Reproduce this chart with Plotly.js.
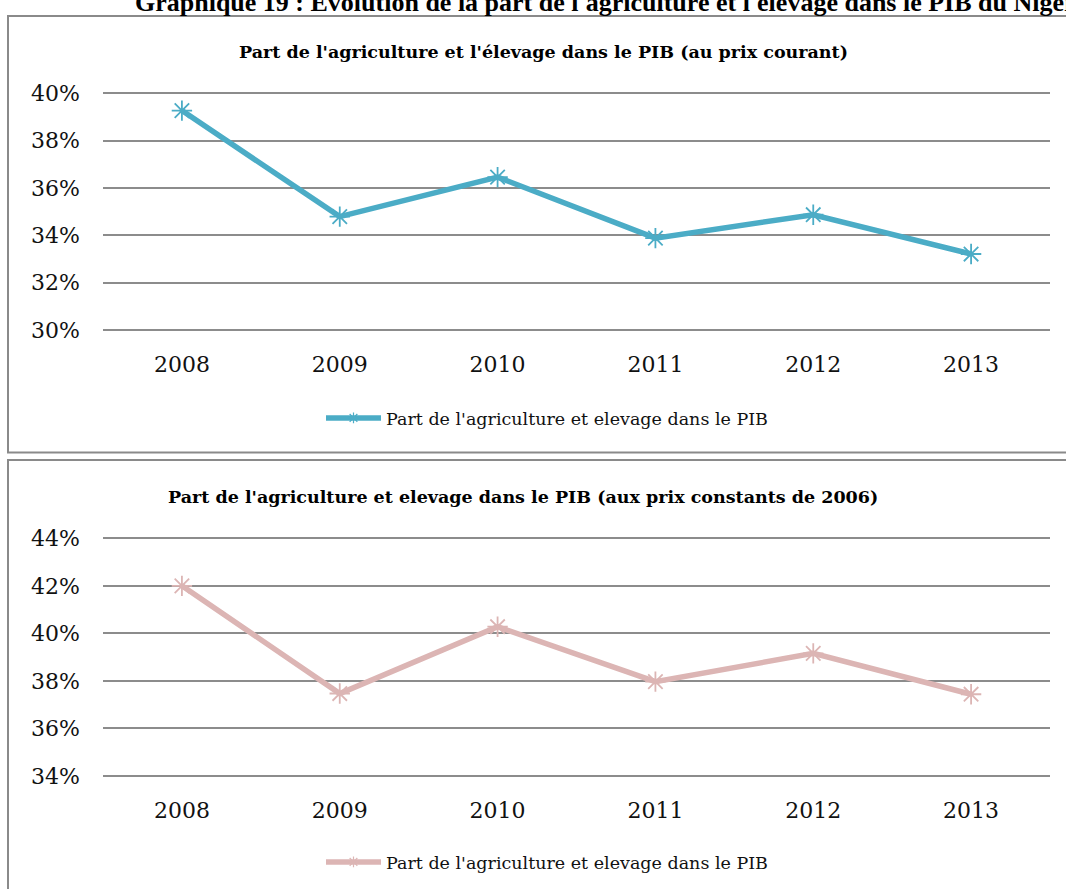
<!DOCTYPE html>
<html>
<head>
<meta charset="utf-8">
<script src="https://cdn.plot.ly/plotly-3.0.1.min.js"></script>
<style>
  html, body { margin: 0; padding: 0; background: #fff; }
  #chart { width: 1066px; height: 889px; }
</style>
</head>
<body>
<div id="chart"></div>
<script>
const years = ['2008', '2009', '2010', '2011', '2012', '2013'];
const partCourant = [0.3927, 0.3479, 0.3646, 0.3388, 0.3487, 0.3321];
const partConstant = [0.4200, 0.3747, 0.4028, 0.3797, 0.3916, 0.3744];
const seriesName = "Part de l'agriculture et elevage dans le PIB";
const titleTop = "Part de l'agriculture et l'élevage dans le PIB (au prix courant)";
const titleBottom = "Part de l'agriculture et elevage dans le PIB (aux prix constants de 2006)";
const headerText = "Graphique 19 : Evolution de la part de l'agriculture et l'élevage dans le PIB du Niger";
const topTicks = [0.30, 0.32, 0.34, 0.36, 0.38, 0.40];
const bottomTicks = [0.34, 0.36, 0.38, 0.40, 0.42, 0.44];

const W = 1066, H = 889;
const px = x => x / W;
const py = y => 1 - y / H;

const tickFont = {family: 'DejaVu Serif', size: 22, color: '#111'};
const gridColor = '#8c8c8c';

// pixel rows of first and last gridline; a small pad keeps the edge gridlines visible
function yAxis(topPx, bottomPx, ticks) {
  const lo = ticks[0], hi = ticks[ticks.length - 1];
  const pad = 0.001;
  const pxPerUnit = (bottomPx - topPx) / (hi - lo);
  const padPx = pad * pxPerUnit;
  return {
    domain: [py(bottomPx + padPx), py(topPx - padPx)],
    range: [lo - pad, hi + pad],
    tickvals: ticks,
    tickformat: '.0%',
    showgrid: true, gridcolor: gridColor, gridwidth: 2,
    zeroline: false, showline: false, ticks: '',
    tickfont: tickFont, ticklabelstandoff: 22,
    fixedrange: true
  };
}
function xAxis(anchor) {
  return {
    domain: [px(103), px(1050)],
    type: 'category',
    range: [-0.5, 5.5],
    showgrid: false, zeroline: false, showline: false, ticks: '',
    tickfont: tickFont, ticklabelstandoff: 17,
    anchor: anchor, fixedrange: true
  };
}

const blue = '#4bacc6', pink = '#dcb5b4';
function series(yvals, color, xa, ya) {
  return {
    x: years, y: yvals, type: 'scatter', mode: 'lines+markers',
    name: seriesName, xaxis: xa, yaxis: ya, showlegend: false,
    line: {color: color, width: 5.5},
    marker: {symbol: 'asterisk-open', size: 17, color: color, line: {color: color, width: 1.8}}
  };
}
function legendEntry(color, xa, ya, leg) {
  return {
    x: [null], y: [null], type: 'scatter', mode: 'lines+markers',
    name: seriesName, xaxis: xa, yaxis: ya, legend: leg, showlegend: true,
    line: {color: color, width: 5.5},
    marker: {symbol: 'asterisk-open', size: 9, color: color, line: {color: color, width: 1.2}}
  };
}

const traces = [
  series(partCourant, blue, 'x', 'y'),
  series(partConstant, pink, 'x2', 'y2'),
  legendEntry(blue, 'x', 'y', 'legend'),
  legendEntry(pink, 'x2', 'y2', 'legend2')
];

const legendFont = {family: 'DejaVu Serif', size: 17.5, color: '#111'};

const layout = {
  width: W, height: H,
  margin: {l: 0, r: 0, t: 0, b: 0},
  paper_bgcolor: '#fff', plot_bgcolor: 'rgba(0,0,0,0)',
  showlegend: true,
  xaxis: xAxis('y'),
  yaxis: yAxis(93.3, 330, topTicks),
  xaxis2: xAxis('y2'),
  yaxis2: yAxis(538.3, 776, bottomTicks),
  legend: {x: px(547), y: py(418), xanchor: 'center', yanchor: 'middle',
           orientation: 'h', font: legendFont, itemwidth: 55, bgcolor: 'rgba(0,0,0,0)'},
  legend2: {x: px(547), y: py(862), xanchor: 'center', yanchor: 'middle',
            orientation: 'h', font: legendFont, itemwidth: 55, bgcolor: 'rgba(0,0,0,0)'},
  shapes: [
    {type: 'rect', xref: 'paper', yref: 'paper', x0: px(8), x1: px(1080), y0: py(16), y1: py(452.5),
     line: {color: '#8a8a8a', width: 2}},
    {type: 'rect', xref: 'paper', yref: 'paper', x0: px(8), x1: px(1080), y0: py(460), y1: py(900),
     line: {color: '#8a8a8a', width: 2}}
  ],
  annotations: [
    {text: '<b>' + headerText + '</b>', xref: 'paper', yref: 'paper', x: px(133), y: py(2),
     xanchor: 'left', yanchor: 'middle', showarrow: false,
     font: {family: 'Liberation Serif', size: 26, color: '#000'}},
    {text: '<b>' + titleTop + '</b>', xref: 'paper', yref: 'paper', x: px(543), y: py(52),
     xanchor: 'center', yanchor: 'middle', showarrow: false,
     font: {family: 'DejaVu Serif', size: 17.5, color: '#000'}},
    {text: '<b>' + titleBottom + '</b>', xref: 'paper', yref: 'paper', x: px(523), y: py(497),
     xanchor: 'center', yanchor: 'middle', showarrow: false,
     font: {family: 'DejaVu Serif', size: 17.5, color: '#000'}}
  ]
};

Plotly.newPlot('chart', traces, layout, {staticPlot: true, displayModeBar: false});
</script>
</body>
</html>
